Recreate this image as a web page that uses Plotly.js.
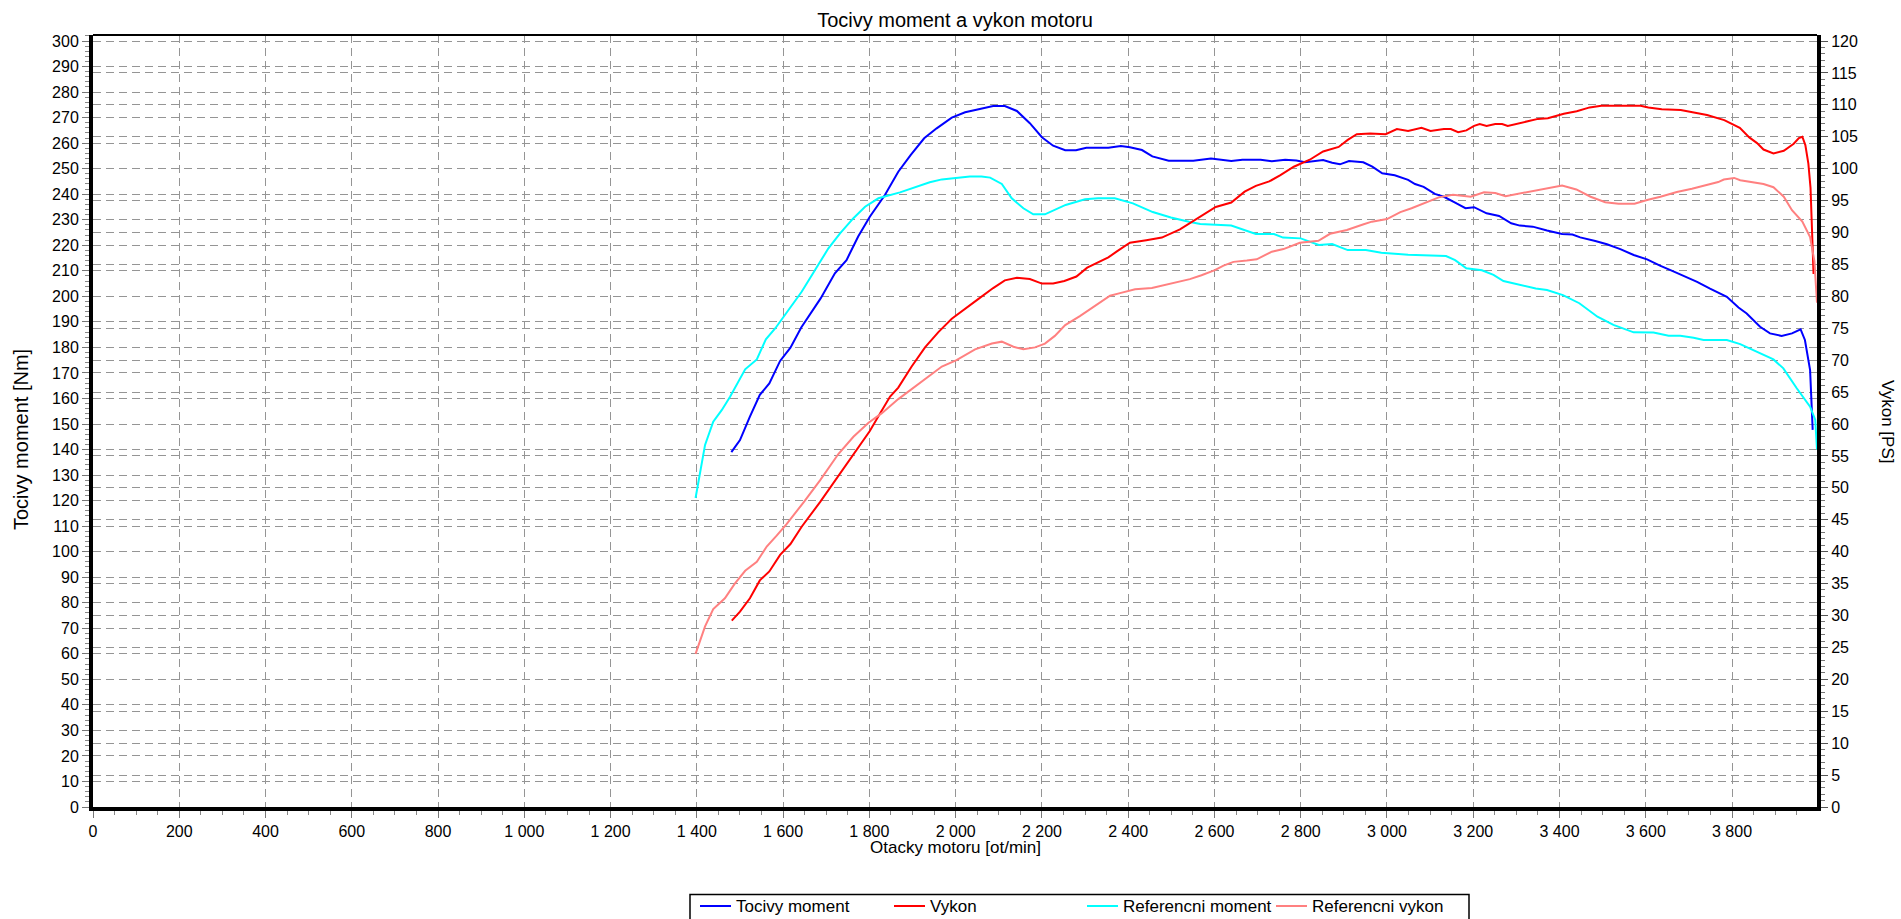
<!DOCTYPE html>
<html>
<head>
<meta charset="utf-8">
<script src="https://cdn.plot.ly/plotly-3.0.1.min.js"></script>
<style>
  html, body { margin: 0; padding: 0; background: #fff; }
  #chart { width: 1901px; height: 919px; }
</style>
</head>
<body>
<div id="chart"></div>
<script>
// ---- Data ----
const torqueRpm = [1480, 1500, 1523, 1546, 1568, 1593, 1617, 1642, 1687, 1720, 1747, 1774, 1801, 1836, 1867, 1896, 1927, 1956, 1991, 2022, 2056, 2087, 2114, 2142, 2172, 2200, 2226, 2254, 2279, 2303, 2354, 2383, 2404, 2432, 2456, 2494, 2551, 2592, 2639, 2665, 2707, 2733, 2764, 2790, 2810, 2852, 2873, 2891, 2912, 2945, 2966, 2989, 3018, 3049, 3065, 3085, 3111, 3132, 3158, 3182, 3202, 3231, 3260, 3288, 3308, 3338, 3371, 3406, 3430, 3448, 3483, 3510, 3541, 3572, 3603, 3633, 3664, 3692, 3719, 3749, 3788, 3815, 3834, 3865, 3888, 3915, 3939, 3959, 3969, 3981, 3987];
const torqueNm = [139, 143.7, 152.9, 161.4, 165.9, 174.7, 179.9, 187.8, 199.2, 209, 214.2, 223.4, 231.2, 239.7, 248.8, 255.4, 261.9, 265.8, 270, 272.1, 273.4, 274.5, 274.5, 272.6, 267.8, 262.3, 259, 257.2, 257.2, 258.2, 258.2, 258.9, 258.4, 257.3, 254.8, 253.1, 253.1, 254, 253, 253.5, 253.5, 252.9, 253.5, 253.2, 252.5, 253.4, 252.3, 251.7, 253, 252.5, 250.8, 248.2, 247.4, 245.6, 244, 242.9, 240.1, 239, 236.7, 234.5, 234.9, 232.5, 231.5, 228.6, 227.7, 227.3, 225.8, 224.4, 224.2, 223.1, 221.7, 220.4, 218.5, 216.2, 214.5, 212, 209.8, 207.7, 205.7, 203, 199.8, 195.6, 193.3, 188.1, 185.5, 184.5, 185.5, 187.1, 182.9, 171.1, 147.7];

const powerRpm = [1481, 1500, 1523, 1546, 1568, 1593, 1617, 1643, 1686, 1724, 1747, 1774, 1801, 1825, 1848, 1867, 1898, 1929, 1960, 1991, 2022, 2053, 2087, 2114, 2142, 2172, 2200, 2226, 2252, 2280, 2305, 2331, 2354, 2373, 2404, 2442, 2478, 2520, 2546, 2577, 2603, 2639, 2670, 2696, 2727, 2753, 2784, 2821, 2852, 2888, 2909, 2930, 2961, 2997, 3023, 3049, 3080, 3101, 3132, 3148, 3165, 3184, 3202, 3215, 3231, 3251, 3267, 3280, 3310, 3350, 3373, 3410, 3440, 3470, 3497, 3588, 3606, 3637, 3681, 3712, 3742, 3782, 3818, 3840, 3858, 3873, 3896, 3920, 3943, 3955, 3963, 3970, 3977, 3982, 3986, 3989];
const powerPS = [29.2, 30.6, 32.7, 35.5, 36.9, 39.5, 41.2, 43.9, 47.8, 51.5, 53.7, 56.4, 58.9, 61.7, 64.3, 65.7, 69, 72, 74.4, 76.5, 78.1, 79.6, 81.3, 82.5, 82.9, 82.7, 82, 82, 82.4, 83.1, 84.5, 85.4, 86.1, 87, 88.4, 88.8, 89.2, 90.5, 91.6, 93, 94, 94.7, 96.4, 97.3, 98, 99, 100.3, 101.4, 102.7, 103.4, 104.5, 105.4, 105.5, 105.4, 106.2, 105.9, 106.4, 105.9, 106.2, 106.2, 105.7, 106, 106.7, 107, 106.7, 107, 107, 106.7, 107.2, 107.8, 107.9, 108.6, 109, 109.6, 109.85, 109.85, 109.6, 109.3, 109.2, 108.8, 108.4, 107.6, 106.4, 104.9, 104, 103, 102.4, 102.8, 103.9, 104.8, 105, 103.7, 100.8, 97, 90, 83.5];

const refTorqueRpm = [1397, 1407, 1419, 1438, 1458, 1477, 1492, 1512, 1539, 1560, 1582, 1602, 1628, 1643, 1674, 1705, 1732, 1763, 1790, 1821, 1871, 1910, 1940, 1968, 2002, 2033, 2060, 2080, 2107, 2130, 2157, 2180, 2207, 2255, 2300, 2330, 2369, 2411, 2457, 2499, 2541, 2567, 2639, 2696, 2738, 2759, 2800, 2842, 2873, 2909, 2951, 2987, 3049, 3101, 3137, 3158, 3184, 3220, 3247, 3270, 3308, 3345, 3371, 3408, 3446, 3488, 3525, 3572, 3618, 3653, 3680, 3711, 3734, 3788, 3819, 3857, 3896, 3919, 3950, 3981, 3993, 3997];
const refTorqueNm = [121, 130.7, 141.8, 150.9, 155.5, 160.7, 165.3, 171.4, 175.3, 183.2, 187.5, 192.3, 198.6, 201.8, 210.3, 218.8, 224.7, 230.6, 235.1, 238.4, 240.7, 242.9, 244.7, 245.8, 246.5, 246.9, 246.9, 246.5, 244, 238.4, 234.5, 232.1, 232.1, 235.8, 238, 238.4, 238.4, 236.4, 233, 230.9, 229.2, 228.3, 227.7, 224.4, 224.4, 223, 222.7, 220.1, 220.5, 218.1, 218.1, 217.1, 216.3, 215.9, 215.8, 214.2, 211, 210.2, 208.4, 206, 204.4, 203.1, 202.5, 200.5, 197.3, 192, 188.8, 185.9, 185.8, 184.6, 184.6, 183.8, 182.9, 182.9, 181.3, 178.3, 175.3, 171.8, 164, 156.8, 151.6, 140];

const refPowerRpm = [1397, 1419, 1438, 1465, 1488, 1512, 1539, 1562, 1585, 1608, 1647, 1686, 1728, 1763, 1798, 1829, 1867, 1902, 1933, 1968, 2002, 2045, 2084, 2107, 2134, 2157, 2184, 2207, 2230, 2254, 2288, 2335, 2358, 2381, 2416, 2455, 2485, 2516, 2543, 2570, 2601, 2621, 2644, 2675, 2698, 2733, 2760, 2798, 2841, 2868, 2907, 2946, 2965, 3000, 3031, 3057, 3085, 3120, 3153, 3194, 3225, 3251, 3275, 3305, 3343, 3377, 3406, 3439, 3472, 3506, 3537, 3574, 3603, 3634, 3672, 3707, 3737, 3768, 3781, 3805, 3819, 3848, 3873, 3896, 3920, 3939, 3963, 3981, 3991, 3997];
const refPowerPS = [24, 28.3, 31, 32.7, 35, 37, 38.4, 40.8, 42.5, 44.3, 47.7, 51.2, 55.3, 58, 60.2, 61.7, 63.9, 65.7, 67.3, 69, 70, 71.7, 72.6, 72.9, 72.1, 71.7, 72, 72.6, 73.8, 75.5, 76.9, 79, 80.1, 80.5, 81.1, 81.3, 81.8, 82.3, 82.7, 83.3, 84.1, 84.8, 85.4, 85.6, 85.8, 87, 87.4, 88.4, 88.7, 89.8, 90.4, 91.3, 91.7, 92.1, 93.2, 93.8, 94.6, 95.5, 95.9, 95.6, 96.3, 96.2, 95.7, 96.1, 96.6, 97.05, 97.35, 96.75, 95.6, 94.75, 94.5, 94.5, 95.1, 95.6, 96.35, 96.85, 97.35, 97.9, 98.3, 98.55, 98.2, 97.85, 97.6, 97.1, 95.6, 93.5, 91.7, 89.3, 85.5, 79];

const seriesNames = ['Tocivy moment', 'Vykon', 'Referencni moment', 'Referencni vykon'];
const seriesColors = ['#0000ff', '#ff0000', '#00ffff', '#ff8080'];
const chartTitle = 'Tocivy moment a vykon motoru';
const xTitle = 'Otacky motoru [ot/min]';
const yLeftTitle = 'Tocivy moment [Nm]';
const yRightTitle = 'Vykon [PS]';

// ---- Styling / layout ----
const FONT = '"Liberation Sans", Arial, Helvetica, sans-serif';
const W = 1901, H = 919;
const L = 93, R = 1817, T = 35, B = 807;
const plotW = R - L, plotH = B - T;
const px2paperX = x => (x - L) / plotW;
const px2paperY = y => (B - y) / plotH;

const gridStyle = { showgrid: true, gridcolor: '#959595', gridwidth: 1, griddash: '8px,5px' };

const traces = [
  { x: torqueRpm, y: torqueNm, name: seriesNames[0], type: 'scatter', mode: 'lines',
    line: { color: seriesColors[0], width: 2 }, yaxis: 'y' },
  { x: powerRpm, y: powerPS, name: seriesNames[1], type: 'scatter', mode: 'lines',
    line: { color: seriesColors[1], width: 2 }, yaxis: 'y2' },
  { x: refTorqueRpm, y: refTorqueNm, name: seriesNames[2], type: 'scatter', mode: 'lines',
    line: { color: seriesColors[2], width: 2 }, yaxis: 'y' },
  { x: refPowerRpm, y: refPowerPS, name: seriesNames[3], type: 'scatter', mode: 'lines',
    line: { color: seriesColors[3], width: 2 }, yaxis: 'y2' }
];

// Legend box drawn in paper coordinates (the reference legend is cut by the bottom edge)
const legendLeft = 690, legendRight = 1469, legendTop = 894.5, legendMidY = 906;
const legendItemX = [700, 894, 1087, 1276];
const shapes = [
  { type: 'line', xref: 'paper', yref: 'paper', x0: 0, x1: 1, y0: 1, y1: 1,
    line: { color: '#000000', width: 2 }, layer: 'above' },
  { type: 'rect', xref: 'paper', yref: 'paper',
    x0: px2paperX(legendLeft), x1: px2paperX(legendRight),
    y0: px2paperY(legendTop), y1: px2paperY(935),
    line: { color: '#000000', width: 1.5 }, fillcolor: '#ffffff', layer: 'above' }
];
const annotations = [
  { text: xTitle, xref: 'paper', yref: 'paper', x: 0.5, y: px2paperY(847),
    xanchor: 'center', yanchor: 'middle', showarrow: false, font: { family: FONT, size: 17 } },
  { text: yLeftTitle, xref: 'paper', yref: 'paper', x: px2paperX(21), y: px2paperY(440),
    xanchor: 'center', yanchor: 'middle', showarrow: false, textangle: -90, font: { family: FONT, size: 20 } },
  { text: yRightTitle, xref: 'paper', yref: 'paper', x: px2paperX(1888), y: 0.5,
    xanchor: 'center', yanchor: 'middle', showarrow: false, textangle: 90, font: { family: FONT, size: 17 } }
];
seriesNames.forEach((name, i) => {
  const x0 = legendItemX[i];
  shapes.push({ type: 'line', xref: 'paper', yref: 'paper',
    x0: px2paperX(x0), x1: px2paperX(x0 + 31), y0: px2paperY(legendMidY), y1: px2paperY(legendMidY),
    line: { color: seriesColors[i], width: 2 }, layer: 'above' });
  annotations.push({ text: name, xref: 'paper', yref: 'paper',
    x: px2paperX(x0 + 34), y: px2paperY(legendMidY), xanchor: 'left', yanchor: 'middle',
    showarrow: false, font: { family: FONT, size: 17, color: '#000' } });
});

const layout = {
  width: W, height: H,
  margin: { l: L, r: W - R, t: T, b: H - B, pad: 0, autoexpand: false },
  paper_bgcolor: '#ffffff', plot_bgcolor: '#ffffff',
  font: { family: FONT, size: 16, color: '#000000' },
  separators: ', ',
  title: { text: chartTitle, font: { family: FONT, size: 20, color: '#000' },
           x: 0.5, xref: 'paper', xanchor: 'center', y: 1 - 20 / H, yref: 'container', yanchor: 'middle' },
  showlegend: false,
  xaxis: Object.assign({
    range: [0, 3997], tick0: 0, dtick: 200, tickformat: ',d',
    showline: true, linecolor: '#000000', linewidth: 4,
    ticks: 'outside', ticklen: 7, tickwidth: 1, tickcolor: '#777777',
    minor: { dtick: 50, tick0: 0, ticks: 'outside', ticklen: 4, tickwidth: 1, tickcolor: '#888888', showgrid: false },
    zeroline: false, tickfont: { family: FONT, size: 16, color: '#000' }, fixedrange: true
  }, gridStyle),
  yaxis: Object.assign({
    range: [0, 302.35], tick0: 0, dtick: 10,
    showline: true, linecolor: '#000000', linewidth: 4,
    ticks: 'outside', ticklen: 7, tickwidth: 1, tickcolor: '#777777',
    minor: { dtick: 2, tick0: 0, ticks: 'outside', ticklen: 4, tickwidth: 1, tickcolor: '#888888', showgrid: false },
    zeroline: false, tickfont: { family: FONT, size: 16, color: '#000' }, fixedrange: true
  }, gridStyle),
  yaxis2: Object.assign({
    overlaying: 'y', side: 'right', anchor: 'x',
    range: [0, 302.35 / 2.5], tick0: 0, dtick: 5,
    showline: true, linecolor: '#000000', linewidth: 4,
    ticks: 'outside', ticklen: 7, tickwidth: 1, tickcolor: '#555555',
    minor: { dtick: 1, tick0: 0, ticks: 'outside', ticklen: 4, tickwidth: 1, tickcolor: '#777777', showgrid: false },
    zeroline: false, tickfont: { family: FONT, size: 16, color: '#000' }, fixedrange: true
  }, gridStyle),
  shapes: shapes,
  annotations: annotations
};

Plotly.newPlot('chart', traces, layout, { staticPlot: true, displayModeBar: false });
</script>
</body>
</html>
